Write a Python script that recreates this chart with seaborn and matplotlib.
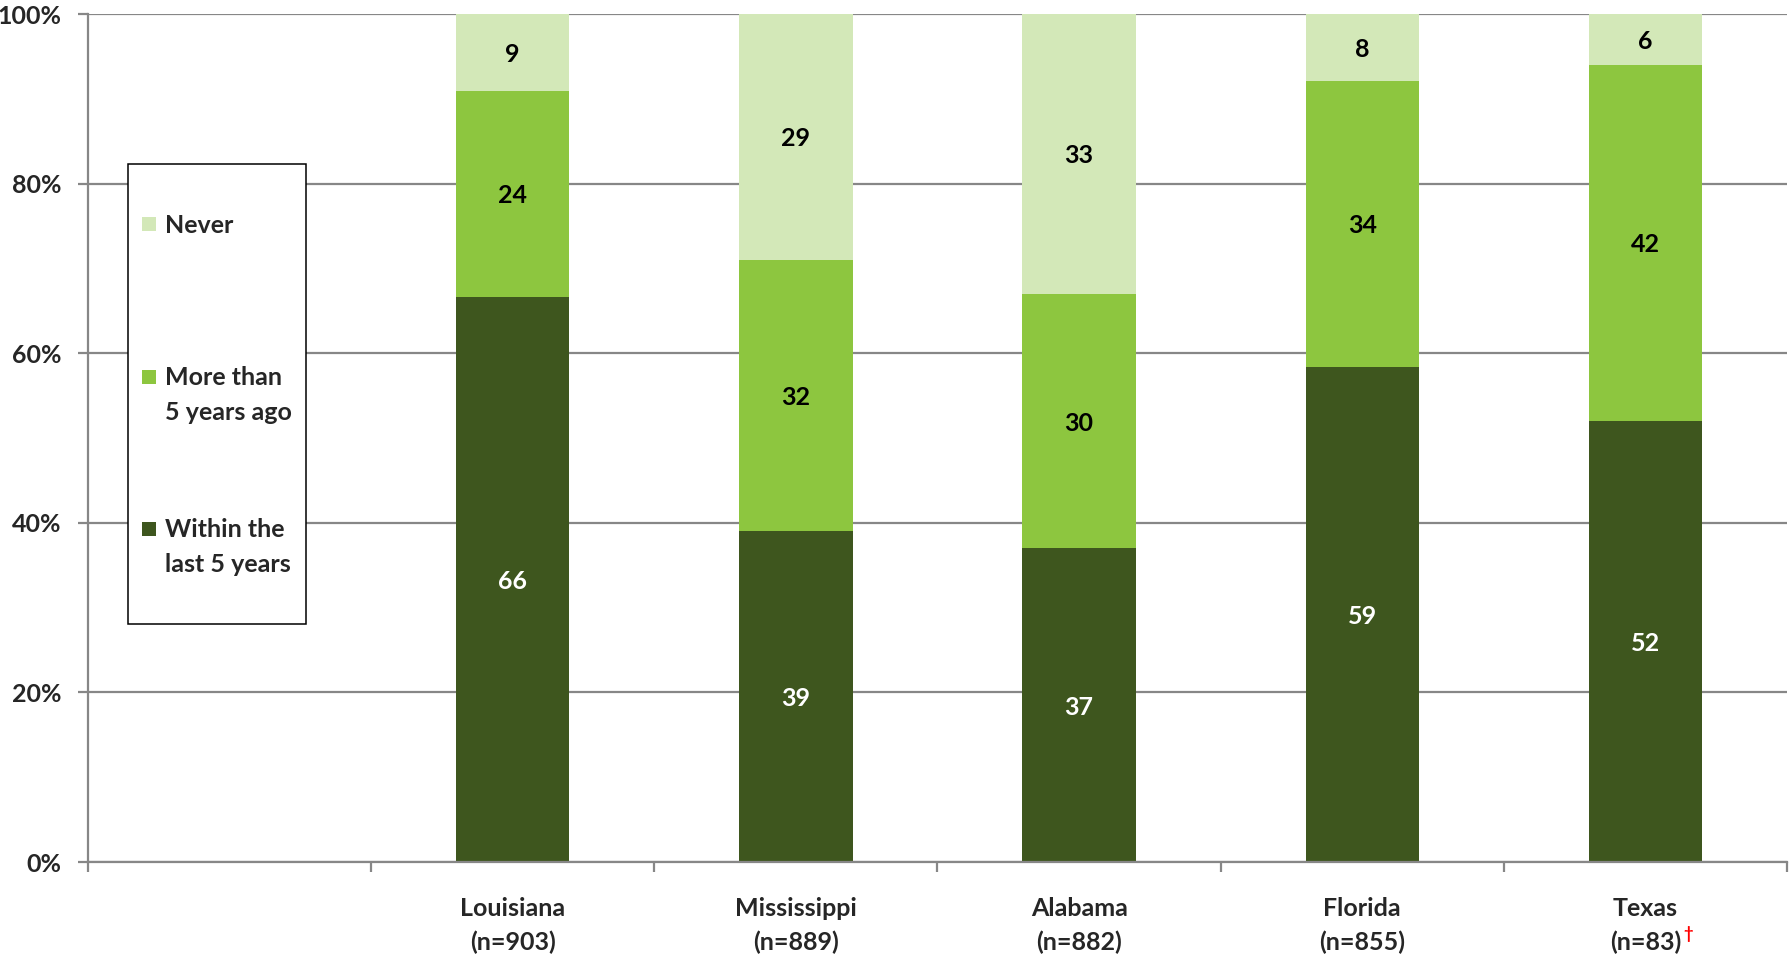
import numpy as np
import pandas as pd
import matplotlib
matplotlib.use("Agg")
import matplotlib.pyplot as plt
from matplotlib.patches import Rectangle
from matplotlib.ticker import PercentFormatter
import seaborn as sns

# Survey results by state (percent of respondents)
states = ["Louisiana", "Mississippi", "Alabama", "Florida", "Texas"]
sample_sizes = [903, 889, 882, 855, 83]
within_5_years = [66, 39, 37, 59, 52]
more_than_5_years = [24, 32, 30, 34, 42]
never = [9, 29, 33, 8, 6]

series_labels = ["Never", "More than\n5 years ago", "Within the\nlast 5 years"]
series_colors = ["#D3E8B8", "#8DC63F", "#3E561E"]
y_ticks = [0, 20, 40, 60, 80, 100]

W, H = 1789, 959
sns.set_theme(style="white")
plt.rcParams["font.family"] = ["Lato", "DejaVu Sans"]
plt.rcParams["font.weight"] = "bold"

cat_labels = [f"{s}\n(n={n})" for s, n in zip(states, sample_sizes)]
order = [" "] + cat_labels

df = pd.DataFrame({
    "category": cat_labels,
    "within": within_5_years,
    "more": more_than_5_years,
    "never": never,
})
total = df[["within", "more", "never"]].sum(axis=1)
df["c_within"] = df["within"] / total * 100
df["c_more"] = df["c_within"] + df["more"] / total * 100
df["c_never"] = df["c_more"] + df["never"] / total * 100

fig = plt.figure(figsize=(W / 100, H / 100), dpi=100)
ax = fig.add_axes([88 / W, 1 - 862 / H, (1787 - 88) / W, (862 - 14) / H])

grey = "#878787"
bar_kw = dict(data=df, x="category", order=order, width=0.4, saturation=1,
              errorbar=None, linewidth=0, ax=ax)
sns.barplot(y="c_never", color=series_colors[0], **bar_kw)
sns.barplot(y="c_more", color=series_colors[1], **bar_kw)
sns.barplot(y="c_within", color=series_colors[2], **bar_kw)

# Segment value labels
fs = 18
for i, row in df.iterrows():
    x = order.index(row["category"])
    segs = [(0, row["c_within"], row["within"], "white"),
            (row["c_within"], row["c_more"], row["more"], "black"),
            (row["c_more"], row["c_never"], row["never"], "black")]
    for lo, hi, val, col in segs:
        ax.text(x, (lo + hi) / 2, f"{val}", ha="center", va="center_baseline",
                color=col, fontsize=fs, fontweight="bold")

ax.set_xlim(-0.5, len(order) - 0.5)
ax.set_ylim(0, 100)
ax.set_yticks(y_ticks)
ax.yaxis.set_major_formatter(PercentFormatter(decimals=0))
ax.set_xlabel("")
ax.set_ylabel("")
ax.yaxis.grid(True, color=grey, linewidth=1.6)
ax.set_axisbelow(True)
for side in ["top", "right"]:
    ax.spines[side].set_visible(False)
for side in ["left", "bottom"]:
    ax.spines[side].set_color(grey)
    ax.spines[side].set_linewidth(1.6)

ax.set_xticks(np.arange(-0.5, len(order), 1.0), minor=True)
ax.tick_params(axis="x", which="minor", length=7.5, width=1.6, color=grey,
               direction="out", bottom=True)
ax.tick_params(axis="x", which="major", length=0, pad=25, labelsize=fs)
ax.tick_params(axis="y", which="major", length=7, width=1.6, color=grey,
               direction="out", left=True, pad=12, labelsize=fs)
for lab in ax.get_xticklabels():
    lab.set_fontweight("bold")
    lab.set_linespacing(1.58)
for lab in ax.get_yticklabels():
    lab.set_fontweight("bold")

# Small-sample marker on the Texas label
fig.canvas.draw()
tex_label = ax.get_xticklabels()[order.index(cat_labels[-1])]
ax.annotate("\u2020", xy=(1, 0.22), xycoords=tex_label, xytext=(1.5, 0),
            textcoords="offset points", ha="left", va="bottom", color="red",
            fontsize=12, fontweight="bold", annotation_clip=False)

# Legend box
def fx(px):
    return px / W

def fy(py):
    return 1 - py / H

fig.patches.append(Rectangle((fx(128), fy(624)), fx(306) - fx(128), fy(164) - fy(624),
                             transform=fig.transFigure, facecolor="white",
                             edgecolor="black", linewidth=1.1, zorder=5))
entry_first_line = [224, 377, 529]
for lab, col, yc in zip(series_labels, series_colors, entry_first_line):
    fig.patches.append(Rectangle((fx(142), fy(yc + 7)), fx(14), 14 / H,
                                 transform=fig.transFigure, facecolor=col,
                                 edgecolor="none", zorder=6))
    n_lines = lab.count("\n") + 1
    if n_lines == 1:
        fig.text(fx(165), fy(yc), lab, ha="left", va="center_baseline",
                 fontsize=fs, fontweight="bold", zorder=7)
    else:
        fig.text(fx(165), fy(yc + 18), lab, ha="left", va="center",
                 fontsize=fs, fontweight="bold", linespacing=1.58, zorder=7)

fig.savefig("out.png", dpi=100)
